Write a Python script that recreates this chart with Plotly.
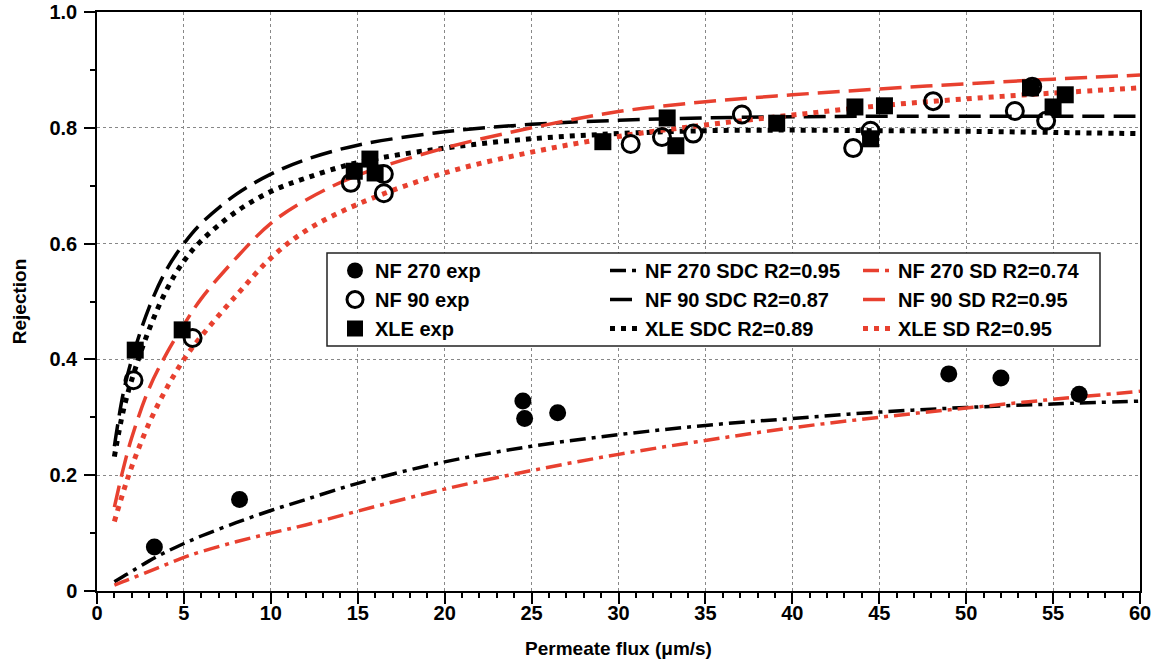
import plotly.graph_objects as go

# ---------------- data ----------------
nf270_x = [3.3, 8.2, 24.5, 24.6, 26.5, 49.0, 52.0, 56.5]
nf270_y = [0.076, 0.158, 0.328, 0.298, 0.308, 0.375, 0.368, 0.340]

nf90_x = [2.1, 5.5, 14.6, 16.5, 16.5, 30.7, 32.5, 34.3, 37.1, 43.5, 44.5, 48.1, 52.8, 54.6, 53.8]
nf90_y = [0.364, 0.437, 0.705, 0.720, 0.687, 0.772, 0.784, 0.790, 0.823, 0.765, 0.795, 0.846, 0.829, 0.812, 0.871]

xle_x = [2.2, 4.9, 14.8, 15.7, 16.0, 29.1, 32.8, 33.3, 39.1, 43.6, 44.5, 45.3, 53.7, 55.0, 55.7]
xle_y = [0.416, 0.451, 0.725, 0.746, 0.722, 0.776, 0.817, 0.769, 0.808, 0.836, 0.781, 0.838, 0.869, 0.836, 0.857]

fit_x = [1, 1.5, 2, 3, 4, 5, 6, 8, 10, 12, 15, 20, 25, 30, 35, 40, 45, 50, 55, 60]
nf270_sdc = [0.016, 0.025, 0.034, 0.052, 0.068, 0.082, 0.095, 0.118, 0.139, 0.158, 0.186, 0.223, 0.250, 0.270, 0.286, 0.298, 0.309, 0.317, 0.323, 0.328]
nf270_sd = [0.010, 0.016, 0.022, 0.034, 0.046, 0.058, 0.068, 0.085, 0.100, 0.114, 0.138, 0.176, 0.208, 0.236, 0.260, 0.282, 0.300, 0.316, 0.331, 0.345]
nf90_sdc = [0.250, 0.340, 0.400, 0.490, 0.555, 0.600, 0.635, 0.685, 0.720, 0.745, 0.770, 0.793, 0.806, 0.813, 0.817, 0.819, 0.820, 0.820, 0.820, 0.820]
nf90_sd = [0.145, 0.210, 0.265, 0.350, 0.410, 0.460, 0.505, 0.575, 0.635, 0.675, 0.718, 0.765, 0.800, 0.828, 0.845, 0.857, 0.867, 0.876, 0.884, 0.891]
xle_sdc = [0.232, 0.310, 0.365, 0.452, 0.520, 0.570, 0.605, 0.655, 0.690, 0.713, 0.740, 0.765, 0.781, 0.790, 0.795, 0.796, 0.795, 0.794, 0.792, 0.790]
xle_sd = [0.120, 0.170, 0.215, 0.290, 0.350, 0.400, 0.440, 0.510, 0.575, 0.622, 0.668, 0.722, 0.758, 0.785, 0.805, 0.822, 0.838, 0.850, 0.860, 0.869]

x_ticks = list(range(0, 61, 5))
y_ticks = [0, 0.2, 0.4, 0.6, 0.8, 1.0]
y_ticktext = ["0", "0.2", "0.4", "0.6", "0.8", "1.0"]

# ---------------- style ----------------
RED = "#E8402F"
BLACK = "#000000"
FONT = "Liberation Sans, Arial, sans-serif"
LW = 3.5

fig = go.Figure()

def curve(y, name, color, dash, legend, width=LW):
    fig.add_trace(go.Scatter(
        x=fit_x, y=y, mode="lines", name=name,
        line=dict(color=color, dash=dash, width=width, shape="spline"),
        legend=legend, hoverinfo="skip"))

DASHDOT = "16px,6px,4px,6px"
LONGDASH = "22px,9px"
DOT = "5px,6px"

curve(nf270_sdc, "NF 270 SDC R2=0.95", BLACK, DASHDOT, "legend2")
curve(nf90_sdc, "NF 90 SDC R2=0.87", BLACK, LONGDASH, "legend2")
curve(xle_sdc, "XLE SDC R2=0.89", BLACK, DOT, "legend2", width=5)
curve(nf270_sd, "NF 270 SD R2=0.74", RED, DASHDOT, "legend3")
curve(nf90_sd, "NF 90 SD R2=0.95", RED, LONGDASH, "legend3")
curve(xle_sd, "XLE SD R2=0.95", RED, DOT, "legend3", width=5)

fig.add_trace(go.Scatter(x=nf270_x, y=nf270_y, mode="markers", name="NF 270 exp",
                         marker=dict(symbol="circle", size=17, color=BLACK),
                         legend="legend"))
fig.add_trace(go.Scatter(x=nf90_x, y=nf90_y, mode="markers", name="NF 90 exp",
                         marker=dict(symbol="circle-open", size=17, color=BLACK,
                                     line=dict(width=3, color=BLACK)),
                         legend="legend"))
fig.add_trace(go.Scatter(x=xle_x, y=xle_y, mode="markers", name="XLE exp",
                         marker=dict(symbol="square", size=17, color=BLACK),
                         legend="legend"))

# ---------------- layout ----------------
W, H = 1161, 663
L, R, T, B = 97, 21, 12, 72
pw, ph = W - L - R, H - T - B

def px_x(p):
    return (p - L) / pw

def px_y(p):
    return 1 - (p - T) / ph

leg_common = dict(bgcolor="rgba(0,0,0,0)", borderwidth=0,
                  font=dict(family=FONT, size=20, color=BLACK, weight="bold"),
                  yanchor="top", xanchor="left", tracegroupgap=0,
                  orientation="v")

fig.update_layout(
    width=W, height=H,
    margin=dict(l=L, r=R, t=T, b=B, autoexpand=False),
    paper_bgcolor="white", plot_bgcolor="white",
    font=dict(family=FONT, color=BLACK),
    legend=dict(x=px_x(335), y=px_y(251), **leg_common),
    legend2=dict(x=px_x(605), y=px_y(251), **leg_common),
    legend3=dict(x=px_x(858), y=px_y(251), **leg_common),
    shapes=[dict(type="rect", xref="paper", yref="paper",
                 x0=px_x(327), x1=px_x(1100), y0=px_y(346), y1=px_y(253),
                 line=dict(color="#222", width=1.5), fillcolor="white", layer="above")],
    xaxis=dict(range=[0, 60], tickvals=x_ticks, ticks="outside", ticklen=11, tickwidth=1.5,
               tickcolor=BLACK, showline=True, linecolor=BLACK, linewidth=1.5, mirror=True,
               showgrid=True, gridcolor="#888", griddash="dot", gridwidth=1, zeroline=False,
               automargin=False, ticklabelstandoff=-8, ticklabeloverflow="allow",
               minor=dict(dtick=1, ticks="outside", ticklen=5, tickcolor=BLACK, showgrid=False),
               tickfont=dict(family=FONT, size=20, weight="bold"),
               title=dict(text="Permeate flux (μm/s)", font=dict(family=FONT, size=19, weight="bold"),
                          standoff=19)),
    yaxis=dict(range=[0, 1.0], tickvals=y_ticks, ticktext=y_ticktext, ticks="outside", ticklen=11,
               tickwidth=1.5, tickcolor=BLACK, showline=True, linecolor=BLACK, linewidth=1.5,
               mirror=True, showgrid=True, gridcolor="#888", griddash="dot", gridwidth=1,
               zeroline=False, automargin=False, ticklabelstandoff=3, ticklabeloverflow="allow",
               minor=dict(dtick=0.1, ticks="outside", ticklen=5, tickcolor=BLACK, showgrid=False),
               tickfont=dict(family=FONT, size=20, weight="bold"),
               title=dict(text="Rejection", font=dict(family=FONT, size=19, weight="bold"),
                          standoff=18)),
)

# remove the browser's default 8px page margin so the figure sits at the window origin
fig.write_html("out.html", config={"displayModeBar": False},
               post_script="document.body.style.margin='0';")
